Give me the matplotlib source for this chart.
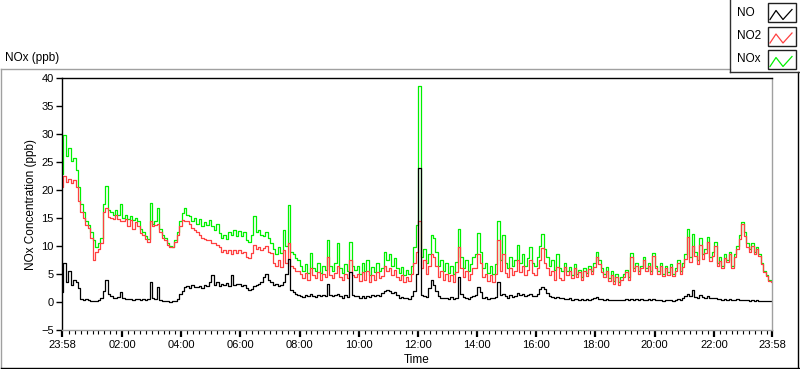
import numpy as np
import matplotlib
matplotlib.use("Agg")
import matplotlib.pyplot as plt
from matplotlib.lines import Line2D
from matplotlib.patches import Rectangle

plt.rcParams['font.family'] = ['Liberation Sans', 'DejaVu Sans']

# ==== DATA (5 min samples, starting 23:58) ====
minutes = np.arange(0, 24 * 60 + 1, 5)

nox = [22.8, 29.8, 26.0, 27.5, 25.2, 25.8, 23.5, 20.5, 17.5, 16.0, 14.5, 13.8,
       12.5, 11.0, 9.9, 10.5, 11.5, 17.5, 20.7, 16.5, 16.0, 15.5, 16.5, 15.5,
       17.5, 15.0, 15.5, 14.8, 15.3, 14.7, 15.0, 14.5, 13.0, 12.5, 11.8, 11.2,
       17.7, 14.0, 14.5, 16.8, 13.0, 12.0, 11.5, 10.5, 10.0, 9.9, 11.0, 12.5,
       14.5, 15.9, 16.8, 15.5, 15.3, 14.5, 15.0, 14.0, 14.8, 13.5, 14.2, 13.8,
       14.7, 13.5, 12.9, 14.0, 12.3, 11.5, 12.0, 11.2, 12.5, 12.0, 12.8, 11.8,
       12.6, 11.8, 12.5, 11.0, 10.8, 12.0, 15.3, 12.5, 12.9, 12.0, 11.7, 12.5,
       11.5, 10.5, 9.5, 8.5, 9.9, 8.8, 12.8, 10.0, 17.4, 9.0, 8.5, 7.8,
       7.5, 6.5, 5.5, 6.8, 5.2, 8.7, 6.0, 5.5, 7.0, 5.2, 6.5, 5.8,
       11.1, 6.5, 5.5, 7.0, 10.5, 6.0, 5.2, 6.8, 5.5, 10.8, 6.5, 5.8,
       6.5, 5.0, 6.9, 5.5, 7.5, 4.8, 6.2, 5.3, 7.0, 5.5, 6.0, 9.0,
       7.5, 8.5, 6.5, 7.8, 6.0, 5.2, 6.3, 4.8, 5.8, 5.0, 6.5, 9.9,
       13.8, 38.5, 8.0, 9.5, 7.0, 8.5, 12.0, 11.4, 9.0, 6.5, 7.5, 5.5,
       7.0, 5.2, 6.5, 5.0, 7.2, 13.0, 8.0, 6.0, 7.5, 5.5, 6.8, 8.0,
       8.5, 12.3, 9.0, 6.0, 7.0, 5.2, 6.5, 5.0, 6.8, 14.4, 7.5, 12.0,
       7.0, 6.0, 8.0, 6.5, 7.5, 10.2, 7.0, 8.5, 6.5, 7.8, 9.9, 7.0,
       6.5, 8.0, 10.0, 12.2, 9.5, 8.0, 6.5, 7.5, 5.8, 8.5, 6.0, 5.5,
       7.0, 5.5, 6.3, 4.8, 6.8, 5.0, 5.8, 4.5, 6.0, 5.2, 6.5, 5.5,
       7.0, 9.0, 7.5, 6.0, 5.0, 6.2, 4.2, 5.5, 3.8, 5.0, 3.5, 4.5,
       5.0, 5.8, 4.5, 8.7, 6.0, 7.0, 5.5, 6.5, 8.1, 6.0, 7.0, 5.5,
       8.7, 6.5, 5.5, 7.0, 5.0, 6.5, 5.3, 6.8, 5.0, 6.0, 7.5, 5.5,
       7.0, 8.5, 13.0, 8.0, 12.2, 9.0, 7.5, 11.4, 8.5, 9.5, 11.6, 8.0,
       9.0, 10.8, 7.0, 8.0, 6.5, 8.5, 7.5, 9.0, 6.5, 8.5, 10.0, 12.0,
       14.3, 12.5, 10.5, 9.5, 10.5, 9.0, 9.8, 8.5, 7.0, 5.5, 4.8, 4.0, 3.7]

no2 = [20.5, 22.5, 21.5, 22.0, 21.2, 21.8, 20.5, 18.0, 16.0, 15.0, 13.8, 13.2,
       11.5, 7.5, 9.0, 9.5, 10.5, 16.0, 16.8, 15.2, 15.0, 14.8, 15.5, 14.8,
       14.5, 14.4, 14.8, 13.5, 14.6, 13.0, 14.2, 13.5, 12.3, 12.0, 11.3, 10.8,
       14.5, 13.5, 13.8, 14.0, 12.5, 11.5, 11.0, 10.2, 9.9, 9.8, 10.8, 12.0,
       13.5, 14.7, 14.5, 14.4, 14.0, 13.2, 12.9, 12.5, 12.0, 11.5, 11.2, 11.0,
       11.0, 10.6, 10.5, 10.2, 9.9, 9.0, 9.3, 8.8, 9.2, 8.5, 9.3, 8.7,
       9.3, 8.8, 9.0, 8.0, 7.8, 8.8, 10.2, 9.5, 9.8, 9.3, 9.6, 10.0,
       9.0, 8.7, 7.0, 6.5, 7.5, 6.3, 9.2, 7.0, 10.5, 6.5, 6.0, 5.5,
       5.5, 5.0, 4.2, 5.2, 4.0, 6.0, 4.8, 4.3, 5.3, 4.0, 5.0, 4.5,
       8.1, 4.8, 4.2, 5.2, 6.5, 4.5, 4.0, 5.0, 4.2, 7.5, 4.8, 4.4,
       5.0, 3.8, 5.3, 4.0, 5.5, 3.6, 4.8, 4.0, 5.4, 4.2, 4.6, 6.5,
       5.5, 6.0, 4.8, 5.8, 4.5, 4.0, 4.8, 3.6, 4.5, 3.8, 5.0, 7.0,
       9.0, 14.5, 6.0, 7.5, 5.0, 6.5, 8.5, 8.0, 6.5, 4.5, 5.5, 4.0,
       5.0, 3.8, 4.8, 3.6, 5.3, 9.9, 6.0, 4.5, 5.6, 4.0, 5.0, 6.0,
       6.0, 8.5, 7.0, 4.5, 5.0, 3.8, 4.8, 3.6, 5.0, 11.1, 5.5, 8.5,
       5.2, 4.5, 6.0, 4.8, 5.5, 7.5, 5.3, 6.5, 4.8, 5.8, 7.5, 5.2,
       4.8, 6.0, 7.5, 9.6, 7.0, 6.0, 4.8, 5.5, 4.0, 6.3, 4.3, 4.0,
       6.3, 4.9, 5.6, 4.2, 6.1, 4.4, 5.3, 3.9, 5.5, 4.7, 5.9, 5.0,
       6.2, 8.1, 6.8, 5.4, 4.5, 5.6, 3.7, 4.9, 3.3, 4.5, 3.1, 4.0,
       4.5, 5.3, 4.0, 8.1, 5.5, 6.4, 5.0, 6.0, 7.5, 5.5, 6.4, 5.0,
       8.2, 6.0, 5.0, 6.5, 4.6, 6.0, 4.9, 6.3, 4.6, 5.5, 7.0, 5.0,
       6.3, 7.6, 11.6, 7.2, 10.0, 8.2, 6.8, 10.2, 7.6, 8.7, 10.8, 7.3,
       8.3, 10.0, 6.5, 7.4, 6.0, 7.9, 7.1, 8.5, 6.1, 8.0, 9.5, 11.2,
       13.9, 11.8, 9.9, 9.0, 10.0, 8.5, 9.4, 8.2, 6.8, 5.3, 4.6, 3.8, 3.5]

no = [1.8, 6.9, 3.5, 5.5, 3.0, 4.0, 3.5, 2.5, 0.6, 0.4, 0.5, 0.3,
      0.2, 0.1, 0.2, 0.3, 0.8, 2.0, 3.9, 1.5, 1.0, 0.8, 0.7, 0.9,
      1.8, 0.7, 0.6, 0.5, 0.6, 0.4, 0.5, 0.6, 0.4, 0.5, 0.4, 0.5,
      3.6, 0.8, 0.5, 2.7, 0.4, 0.2, 0.1, 0.1, 0.0, 0.1, 0.2, 0.5,
      1.5, 2.0, 2.6, 2.8, 2.5, 3.0, 2.7, 2.6, 2.9, 2.5, 3.0, 2.8,
      3.6, 4.8, 3.0, 3.5, 2.8, 3.2, 3.0, 3.4, 2.9, 4.9, 3.1, 3.3,
      3.3, 2.8, 3.0, 2.5, 2.2, 2.4, 2.8, 3.0, 3.2, 3.5, 4.5, 5.0,
      4.0, 3.5, 3.0, 3.3, 2.8, 3.0, 3.5, 5.0, 7.6, 2.2, 1.8, 1.5,
      1.3, 1.0, 0.9, 1.2, 1.0, 1.5, 1.1, 0.9, 1.3, 1.0, 1.2, 1.0,
      3.3, 1.2, 1.0, 1.3, 1.5, 1.0, 0.8, 1.2, 0.9, 5.4, 1.3, 1.0,
      1.0, 0.8, 1.1, 0.7, 1.0, 0.9, 1.2, 1.0, 1.3, 1.1, 1.6, 2.0,
      2.2, 2.0, 1.6, 1.8, 1.2, 0.8, 0.9, 0.7, 0.8, 0.6, 1.0, 2.0,
      5.0, 24.0, 1.2, 1.0, 0.9, 2.5, 3.9, 3.0, 2.0, 1.0, 0.8, 0.7,
      0.8, 0.6, 0.9, 0.5, 0.8, 4.5, 1.5, 0.9, 0.8, 0.6, 0.9, 1.1,
      1.2, 2.7, 1.8, 0.8, 0.9, 0.6, 0.8, 0.7, 0.9, 3.6, 1.2, 1.5,
      1.0, 0.8, 1.2, 0.9, 1.1, 1.6, 1.2, 1.4, 1.0, 1.2, 1.5, 1.1,
      1.0, 1.5, 2.4, 2.7, 2.3, 1.6, 1.0, 0.9, 0.7, 0.9, 0.8, 0.7,
      0.6, 0.5, 0.7, 0.4, 0.6, 0.5, 0.4, 0.5, 0.4, 0.5, 0.4, 0.5,
      0.7, 0.9, 0.6, 0.5, 0.4, 0.5, 0.3, 0.4, 0.3, 0.4, 0.3, 0.4,
      0.4, 0.5, 0.3, 0.6, 0.4, 0.5, 0.3, 0.5, 0.4, 0.3, 0.5, 0.4,
      0.5, 0.3, 0.4, 0.3, 0.2, 0.4, 0.3, 0.4, 0.2, 0.3, 0.5, 0.4,
      0.8, 1.0, 1.4, 1.0, 2.2, 0.9, 0.8, 1.2, 0.9, 0.8, 1.1, 0.7,
      0.7, 0.8, 0.5, 0.6, 0.4, 0.5, 0.4, 0.5, 0.3, 0.4, 0.5, 0.4,
      0.4, 0.3, 0.3, 0.2, 0.3, 0.2, 0.3, 0.2, 0.2, 0.2, 0.2, 0.2, 0.2]

tick_hours = [0, 2 + 2 / 60, 4 + 2 / 60, 6 + 2 / 60, 8 + 2 / 60, 10 + 2 / 60,
              12 + 2 / 60, 14 + 2 / 60, 16 + 2 / 60, 18 + 2 / 60, 20 + 2 / 60,
              22 + 2 / 60, 24]
tick_labels = ['23:58', '02:00', '04:00', '06:00', '08:00', '10:00', '12:00',
               '14:00', '16:00', '18:00', '20:00', '22:00', '23:58']
series_names = ['NO', 'NO2', 'NOx']
series_colors = ['black', '#ff4040', '#00f000']

W, H = 800, 369


def px(x, y):
    # pixel coords (top-left origin) -> figure fraction
    return x / W, 1 - y / H


fig = plt.figure(figsize=(W / 100, H / 100), dpi=100)
ax = fig.add_axes([62 / W, 1 - 330 / H, 710 / W, 252 / H])

t = minutes / 60.0
ax.plot(t, nox, color=series_colors[2], lw=0.9, drawstyle='steps-mid')
ax.plot(t, no2, color=series_colors[1], lw=0.9, drawstyle='steps-mid')
ax.plot(t, no, color=series_colors[0], lw=0.9, drawstyle='steps-mid')

ax.set_xlim(0, 24)
ax.set_ylim(-5, 40)
ax.set_yticks(np.arange(-5, 41, 5))
ax.set_xticks(tick_hours)
ax.set_xticklabels(tick_labels)
ax.set_xticks(np.arange(2 / 60 + 0.2, 24, 0.2), minor=True)
ax.tick_params(axis='y', direction='out', length=4, width=1, pad=2, labelsize=8)
ax.tick_params(axis='x', which='major', direction='out', length=5, width=1.6,
               pad=2, labelsize=8)
ax.tick_params(axis='x', which='minor', direction='out', length=3, width=0.8)

for side in ['top', 'left']:
    ax.spines[side].set_color('black')
    ax.spines[side].set_linewidth(1.0)
for side in ['bottom', 'right']:
    ax.spines[side].set_color('#a0a0a0')
    ax.spines[side].set_linewidth(1.0)

ax.set_ylabel('NOx Concentration (ppb)', fontsize=8.5)
ax.yaxis.set_label_coords(-0.035, 0.5)
ax.set_xlabel('Time', fontsize=8.5)
ax.xaxis.set_label_coords(0.5, -0.095)

# outer panel frame
fig.add_artist(Line2D([px(1, 69)[0], px(730, 69)[0]], [px(1, 69)[1]] * 2,
                      color='#a0a0a0', lw=1))
fig.add_artist(Line2D([px(1, 69)[0]] * 2, [px(1, 69)[1], px(1, 368)[1]],
                      color='#a0a0a0', lw=1))
fig.add_artist(Line2D([px(1, 368)[0], px(799, 368)[0]], [px(1, 368)[1]] * 2,
                      color='black', lw=1))
fig.add_artist(Line2D([px(798, 72)[0]] * 2, [px(798, 72)[1], px(798, 368)[1]],
                      color='black', lw=1))

fig.text(*px(5, 58), 'NOx (ppb)', fontsize=8.5, ha='left', va='center')

# legend box (LabVIEW style plot legend)
fig.add_artist(Rectangle(px(730, 72), 70 / W, 72 / H, facecolor='white',
                         edgecolor='none'))
fig.add_artist(Line2D([px(730, 0)[0]] * 2, [px(730, 0)[1], px(730, 72)[1]],
                      color='#303030', lw=1))
fig.add_artist(Line2D([px(730, 72)[0], px(800, 72)[0]], [px(730, 72)[1]] * 2,
                      color='#303030', lw=1))
zig_x = [770, 776, 783, 792]
zig_dy = [7, -2, 7, -3]
for i, (name, col) in enumerate(zip(series_names, series_colors)):
    top = 3 + i * 23.5
    fig.add_artist(Rectangle(px(768, top + 19), 28 / W, 19 / H,
                             facecolor='white', edgecolor='#202020', lw=1))
    yc = top + 9.5
    fig.add_artist(Line2D([x / W for x in zig_x],
                          [1 - (yc + d) / H for d in zig_dy], color=col, lw=0.9))
    fig.text(*px(737, yc), name, fontsize=8.5, ha='left', va='center')

fig.savefig('out.png', dpi=100)
